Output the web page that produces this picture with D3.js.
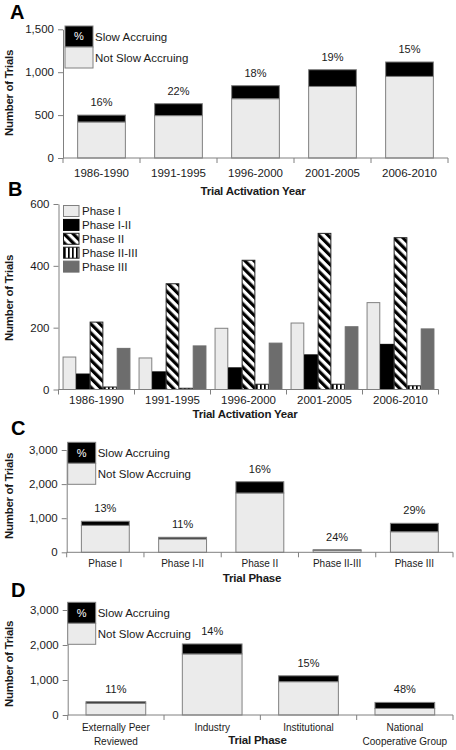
<!DOCTYPE html>
<html><head><meta charset="utf-8">
<script src="https://cdn.jsdelivr.net/npm/d3@7"></script>
<style>
body{margin:0;background:#fff}
svg{display:block}
text{font-family:"Liberation Sans",Arial,sans-serif;fill:#1a1a1a}
</style>
</head><body>
<svg id="c" width="456" height="750"></svg>
<script>
// ---------- DATA ----------
const yearCats = ["1986-1990","1991-1995","1996-2000","2001-2005","2006-2010"];
const aTotal = [500, 633, 843, 1029, 1119];
const aSlow  = [80, 139, 152, 195, 168];
const aPct   = ["16%","22%","18%","19%","15%"];
const aTicks = [0, 500, 1000, 1500];

const phaseSeries = ["Phase I","Phase I-II","Phase II","Phase II-III","Phase III"];
const bPhaseI     = [105, 102, 198, 215, 281];
const bPhaseI_II  = [50, 57, 70, 112, 146];
const bPhaseII    = [218, 342, 418, 505, 491];
const bPhaseII_III= [8, 4, 17, 17, 12];
const bPhaseIII   = [133, 141, 150, 203, 196];
const bTicks = [0, 200, 400, 600];

const phaseCats = ["Phase I","Phase I-II","Phase II","Phase II-III","Phase III"];
const cTotal = [910, 440, 2070, 75, 850];
const cSlow  = [120, 48, 331, 18, 247];
const cPct   = ["13%","11%","16%","24%","29%"];
const cdTicks = [0, 1000, 2000, 3000];

const sponsorCats = ["Externally Peer\nReviewed","Industry","Institutional","National\nCooperative Group"];
const dTotal = [380, 2030, 1120, 360];
const dSlow  = [42, 285, 168, 173];
const dPct   = ["11%","14%","15%","48%"];

const legendLabels = ["Slow Accruing","Not Slow Accruing"];

// ---------- SETUP ----------
const svg = d3.select("#c");
const AX = "#808080", LIGHT = "#ebebeb", DARK = "#6d6d6d";
const defs = svg.append("defs");
const pd = defs.append("pattern").attr("id","diag").attr("patternUnits","userSpaceOnUse")
  .attr("width",6.4).attr("height",6.4).attr("patternTransform","rotate(-45)");
pd.append("rect").attr("width",6.4).attr("height",6.4).attr("fill","#fff");
pd.append("rect").attr("width",3.2).attr("height",6.4).attr("fill","#000");
const pv = defs.append("pattern").attr("id","vert").attr("patternUnits","userSpaceOnUse")
  .attr("width",4).attr("height",4);
pv.append("rect").attr("width",4).attr("height",4).attr("fill","#fff");
pv.append("rect").attr("width",1.7).attr("height",4).attr("fill","#000");

function panelLetter(t, x, y){
  svg.append("text").attr("x",x).attr("y",y).text(t)
    .attr("font-size",20).attr("font-weight","bold").style("fill","#000");
}
function yTitle(cy){
  svg.append("text").attr("transform",`translate(13,${cy}) rotate(-90)`)
    .attr("text-anchor","middle").attr("font-size",11.5).attr("font-weight","bold")
    .style("letter-spacing","-0.3px").text("Number of Trials");
}
function xTitle(t, cx, cy){
  svg.append("text").attr("x",cx).attr("y",cy).attr("dy","0.35em")
    .attr("text-anchor","middle").attr("font-size",11.5).attr("font-weight","bold")
    .style("letter-spacing","-0.2px").text(t);
}
function yAxis(y, ticks, x0, fs){
  const g = svg.append("g").attr("transform",`translate(${x0},0)`)
    .call(d3.axisLeft(y).tickValues(ticks).tickFormat(d3.format(",")).tickSize(5).tickSizeOuter(0).tickPadding(4));
  g.select(".domain").attr("stroke",AX);
  g.selectAll(".tick line").attr("stroke",AX);
  g.selectAll(".tick text").attr("font-size",fs).attr("font-family",null).style("fill","#1a1a1a");
}
function xAxis(x, cats, y0, x1, pad, fs, lineH){
  const g = svg.append("g").attr("transform",`translate(0,${y0})`);
  const r = x.range();
  g.append("line").attr("x1",r[0]).attr("x2",x1).attr("stroke",AX);
  g.selectAll(".bt").data(d3.range(cats.length+1)).join("line")
    .attr("x1",i=>r[0]+i*x.step()).attr("x2",i=>r[0]+i*x.step())
    .attr("y1",0).attr("y2",5).attr("stroke",AX);
  const half = (x.step()-x.bandwidth())/2;
  g.selectAll(".lab").data(cats).join("text")
    .attr("text-anchor","middle").attr("font-size",fs)
    .each(function(d){
      const t = d3.select(this);
      const cx = x(d) + x.bandwidth()/2;
      d.split("\n").forEach((ln,i)=>{
        t.append("tspan").attr("x",cx).attr("y",pad + i*lineH).attr("dy","0.35em").text(ln);
      });
    });
}

function stackedPanel(o){
  const y = d3.scaleLinear().domain([0, o.ticks[o.ticks.length-1]]).range(o.yr);
  const x = d3.scaleBand().domain(o.cats).range(o.xr).paddingInner(0.38).paddingOuter(0.19);
  const g = svg.append("g");
  o.cats.forEach((c,i)=>{
    const notSlow = o.total[i]-o.slow[i];
    g.append("rect").attr("x",x(c)).attr("width",x.bandwidth())
      .attr("y",y(notSlow)).attr("height",y(0)-y(notSlow))
      .attr("fill",LIGHT).attr("stroke",AX).attr("stroke-width",1);
    g.append("rect").attr("x",x(c)).attr("width",x.bandwidth())
      .attr("y",y(o.total[i])).attr("height",y(notSlow)-y(o.total[i]))
      .attr("fill","#000").attr("stroke",AX).attr("stroke-width",1);
    g.append("text").attr("x",x(c)+x.bandwidth()/2).attr("y",y(o.total[i])-13)
      .attr("dy","0.35em").attr("text-anchor","middle").attr("font-size",11).text(o.pct[i]);
  });
  yAxis(y, o.ticks, o.xr[0], 11.5);
  xAxis(x, o.cats, o.yr[0], o.xr[1], o.labPad, o.labFs, o.lineH || 13);
  // legend
  const L = o.leg;
  svg.append("rect").attr("x",L.x).attr("y",L.y).attr("width",28).attr("height",21)
    .attr("fill","#000").attr("stroke",AX);
  svg.append("rect").attr("x",L.x).attr("y",L.y+21).attr("width",28).attr("height",21)
    .attr("fill",LIGHT).attr("stroke",AX);
  svg.append("text").attr("x",L.x+14).attr("y",L.y+10.5).attr("dy","0.35em")
    .attr("text-anchor","middle").attr("font-size",11).style("fill","#fff").text("%");
  svg.append("text").attr("x",L.x+30).attr("y",L.y+11).attr("dy","0.35em")
    .attr("font-size",11.5).text(legendLabels[0]);
  svg.append("text").attr("x",L.x+30).attr("y",L.y+31.5).attr("dy","0.35em")
    .attr("font-size",11.5).text(legendLabels[1]);
}

// ---------- PANEL A ----------
panelLetter("A", 10, 18.5);
yTitle(93);
stackedPanel({cats:yearCats,total:aTotal,slow:aSlow,pct:aPct,ticks:aTicks,
  yr:[158,29.3], xr:[63,448], labPad:15, labFs:11.5, leg:{x:65,y:26}});
xTitle("Trial Activation Year", 253, 190.5);

// ---------- PANEL B ----------
panelLetter("B", 8, 195.5);
yTitle(298);
(function(){
  const series = [bPhaseI,bPhaseI_II,bPhaseII,bPhaseII_III,bPhaseIII];
  const fills = [LIGHT,"#000","url(#diag)","url(#vert)",DARK];
  const strokes = [AX,"#000","#222","#222",DARK];
  const y = d3.scaleLinear().domain([0,600]).range([389.5,204]);
  const x = d3.scaleBand().domain(yearCats).range([58.5,438.5]).paddingInner(0.12).paddingOuter(0.06);
  const xs = d3.scaleBand().domain(phaseSeries).range([0,x.bandwidth()]).paddingInner(0.06);
  const g = svg.append("g");
  yearCats.forEach((c,i)=>{
    phaseSeries.forEach((s,j)=>{
      const v = series[j][i];
      g.append("rect").attr("x",x(c)+xs(s)).attr("width",xs.bandwidth())
        .attr("y",y(v)).attr("height",y(0)-y(v))
        .attr("fill",fills[j]).attr("stroke",strokes[j]).attr("stroke-width",1);
    });
  });
  yAxis(y, bTicks, 58.5, 11.5);
  xAxis(x, yearCats, 389.5, 438.5, 10.5, 11.5, 13);
  phaseSeries.forEach((s,j)=>{
    const ty = 205.5 + j*13.9;
    svg.append("rect").attr("x",63.5).attr("y",ty).attr("width",15.5).attr("height",11)
      .attr("fill",fills[j]).attr("stroke",strokes[j]);
    svg.append("text").attr("x",82).attr("y",ty+5.5).attr("dy","0.35em")
      .attr("font-size",11.5).text(s);
  });
})();
xTitle("Trial Activation Year", 245, 414);

// ---------- PANEL C ----------
panelLetter("C", 11, 435);
yTitle(496);
stackedPanel({cats:phaseCats,total:cTotal,slow:cSlow,pct:cPct,ticks:cdTicks,
  yr:[552.3,450], xr:[66.7,453], labPad:11.7, labFs:10, leg:{x:67.7,y:442.3}});
xTitle("Trial Phase", 252, 577.5);

// ---------- PANEL D ----------
panelLetter("D", 11, 597);
yTitle(664);
stackedPanel({cats:sponsorCats,total:dTotal,slow:dSlow,pct:dPct,ticks:cdTicks,
  yr:[715,610], xr:[67.7,453], labPad:12, labFs:10, lineH:14, leg:{x:67.7,y:602.3}});
xTitle("Trial Phase", 257.5, 739.5);
</script>
</body></html>
